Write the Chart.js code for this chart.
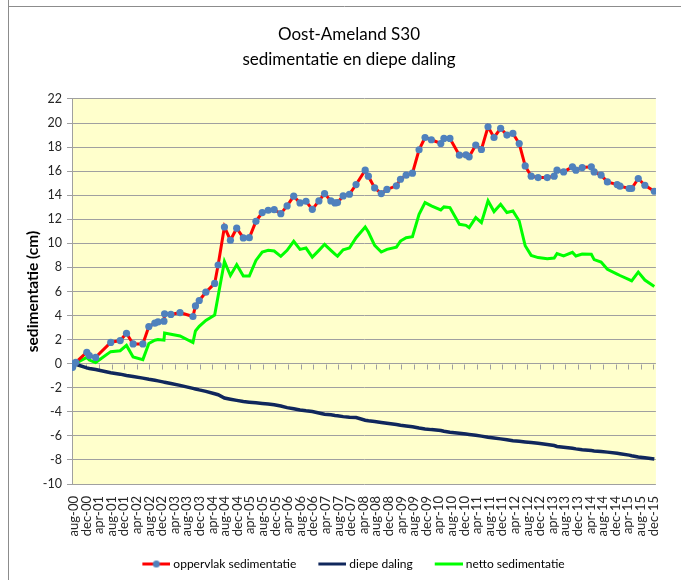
<!DOCTYPE html>
<html><head><meta charset="utf-8">
<script src="https://cdn.jsdelivr.net/npm/chart.js@4.4.1/dist/chart.umd.min.js"></script>
<style>html,body{margin:0;padding:0;background:#fff;overflow:hidden}canvas{display:block}</style>
</head><body>
<canvas id="c" width="681" height="580"></canvas>
<script>
const tickLabels = ['aug-00','dec-00','apr-01','aug-01','dec-01','apr-02','aug-02','dec-02','apr-03','aug-03','dec-03','apr-04','aug-04','dec-04','apr-05','aug-05','dec-05','apr-06','aug-06','dec-06','apr-07','aug-07','dec-07','apr-08','aug-08','dec-08','apr-09','aug-09','dec-09','apr-10','aug-10','dec-10','apr-11','aug-11','dec-11','apr-12','aug-12','dec-12','apr-13','aug-13','dec-13','apr-14','aug-14','dec-14','apr-15','aug-15','dec-15'];

// months since aug-00
const months = [-0.4, 0.0, 0.6, 4.1, 4.9, 6.9, 11.7, 14.7, 16.7, 18.8,
 21.9, 23.8, 25.7, 26.7, 28.6, 28.8, 30.8, 33.7, 37.8, 38.6,
 39.8, 41.9, 44.7, 45.8, 47.8, 49.7, 51.7, 53.8, 55.7, 57.8,
 59.8, 61.7, 63.6, 65.7, 67.7, 69.8, 71.8, 73.7, 75.7, 77.8,
 79.6, 81.6, 82.9, 83.7, 85.5, 87.5, 89.6, 92.5, 93.5, 95.5,
 97.6, 99.4, 102.4, 103.7, 105.5, 107.5, 109.6, 111.5, 113.5, 116.5,
 117.5, 119.4, 122.4, 124.5, 125.5, 127.6, 129.4, 131.5, 133.4, 135.5,
 137.5, 139.4, 141.4, 143.3, 145.2, 147.4, 150.3, 152.5, 153.4, 155.5,
 158.3, 159.4, 161.4, 164.3, 165.2, 167.4, 169.4, 172.5, 173.4, 176.3,
 177.1, 179.2, 181.3, 184.3];

const oppervlak = [-0.3, 0.0, 0.12, 0.95, 0.67, 0.52, 1.77, 1.92, 2.53, 1.64,
 1.64, 3.08, 3.37, 3.47, 3.53, 4.15, 4.09, 4.25, 3.92, 4.8,
 5.25, 5.94, 6.67, 8.2, 11.36, 10.26, 11.26, 10.45, 10.47, 11.83,
 12.56, 12.75, 12.8, 12.47, 13.11, 13.92, 13.36, 13.5, 12.83, 13.53,
 14.14, 13.53, 13.36, 13.39, 13.94, 14.08, 14.89, 16.08, 15.58, 14.61,
 14.14, 14.48, 14.78, 15.33, 15.67, 15.83, 17.78, 18.8, 18.61, 18.3,
 18.72, 18.72, 17.33, 17.36, 17.19, 18.17, 17.8, 19.69, 18.8, 19.56,
 19.0, 19.14, 18.3, 16.44, 15.58, 15.47, 15.47, 15.58, 16.08, 15.94,
 16.36, 16.08, 16.3, 16.36, 15.94, 15.67, 15.11, 14.89, 14.75, 14.56,
 14.56, 15.39, 14.83, 14.33];

const diepeDaling = [0.0, 0.0, -0.05, -0.35, -0.4, -0.48, -0.75, -0.87, -0.98, -1.07,
 -1.2, -1.3, -1.38, -1.43, -1.53, -1.55, -1.65, -1.8, -2.05, -2.1,
 -2.18, -2.3, -2.5, -2.58, -2.85, -2.95, -3.05, -3.15, -3.2, -3.25,
 -3.3, -3.35, -3.42, -3.52, -3.65, -3.75, -3.85, -3.92, -3.98, -4.1,
 -4.2, -4.25, -4.3, -4.32, -4.4, -4.45, -4.48, -4.7, -4.75, -4.8,
 -4.88, -4.95, -5.05, -5.12, -5.18, -5.25, -5.35, -5.42, -5.48, -5.55,
 -5.62, -5.7, -5.78, -5.85, -5.88, -5.95, -6.02, -6.12, -6.18, -6.25,
 -6.32, -6.4, -6.45, -6.5, -6.55, -6.62, -6.72, -6.8, -6.88, -6.95,
 -7.03, -7.08, -7.15, -7.22, -7.25, -7.3, -7.35, -7.45, -7.48, -7.6,
 -7.65, -7.75, -7.82, -7.92];

const netto = [-0.3, -0.1, 0.05, 0.52, 0.3, 0.1, 1.0, 1.08, 1.52, 0.55,
 0.34, 1.68, 1.95, 2.0, 1.95, 2.55, 2.45, 2.3, 1.75, 2.72,
 3.1, 3.6, 4.05, 5.62, 8.5, 7.33, 8.22, 7.28, 7.28, 8.58,
 9.28, 9.42, 9.36, 8.92, 9.42, 10.17, 9.5, 9.61, 8.86, 9.42,
 9.92, 9.42, 9.1, 8.94, 9.47, 9.61, 10.47, 11.36, 10.94, 9.83,
 9.28, 9.5, 9.69, 10.19, 10.47, 10.56, 12.42, 13.39, 13.11, 12.78,
 13.03, 12.97, 11.58, 11.5, 11.31, 12.14, 11.72, 13.53, 12.64, 13.25,
 12.56, 12.69, 11.86, 9.8, 9.0, 8.82, 8.72, 8.78, 9.15, 8.96,
 9.25, 8.95, 9.12, 9.1, 8.65, 8.45, 7.85, 7.45, 7.33, 6.98,
 6.88, 7.61, 6.95, 6.42];

const seriesNames = ['oppervlak sedimentatie', 'diepe daling', 'netto sedimentatie'];

const RED = '#FF0000', MARK = '#4F81BD', NAVY = '#10275C', GREEN = '#00FF00';

// legend icon: 40px wide image, visible line in the right 28px
function legendIcon(color, marker) {
  const c = document.createElement('canvas');
  c.width = 40; c.height = 9;
  const x = c.getContext('2d');
  x.strokeStyle = color; x.lineWidth = 3;
  x.beginPath(); x.moveTo(12, 4.5); x.lineTo(40, 4.5); x.stroke();
  if (marker) { x.fillStyle = marker; x.beginPath(); x.arc(26, 4.5, 3.5, 0, Math.PI * 2); x.fill(); }
  return c;
}
const icons = [legendIcon(RED, MARK), legendIcon(NAVY), legendIcon(GREEN)];

const pts = arr => months.map((m, i) => ({x: m, y: arr[i]}));

const deco = {
  id: 'deco',
  beforeDraw(chart) {
    const ctx = chart.ctx, a = chart.chartArea;
    ctx.save();
    ctx.fillStyle = '#fff'; ctx.fillRect(0, 0, chart.width, chart.height);
    ctx.fillStyle = '#FFFFCC'; ctx.fillRect(a.left, a.top, a.right - a.left, a.bottom - a.top);
    ctx.strokeStyle = '#8c8c8c'; ctx.lineWidth = 1;
    ctx.beginPath();
    ctx.moveTo(8.5, 0); ctx.lineTo(8.5, chart.height);
    ctx.moveTo(8, 6.5); ctx.lineTo(chart.width, 6.5);
    ctx.stroke();
    ctx.restore();
  },
  beforeDatasetsDraw(chart) {
    const ctx = chart.ctx, xs = chart.scales.x, ys = chart.scales.y;
    const y0 = Math.round(ys.getPixelForValue(0)) + 0.5;
    ctx.save();
    ctx.strokeStyle = '#a0a0a0'; ctx.lineWidth = 1;
    ctx.beginPath();
    tickLabels.forEach((_, i) => {
      const x = Math.round(xs.getPixelForValue(i * 4)) + 0.5;
      ctx.moveTo(x, y0); ctx.lineTo(x, y0 + 5);
    });
    ctx.stroke();
    ctx.restore();
  }
};

new Chart(document.getElementById('c'), {
  type: 'line',
  data: {
    datasets: [
      {label: seriesNames[0], data: pts(oppervlak), borderColor: RED, borderWidth: 3, pointRadius: 3.6, pointBackgroundColor: MARK, pointBorderColor: MARK, pointBorderWidth: 0, tension: 0},
      {label: seriesNames[1], data: pts(diepeDaling), borderColor: NAVY, borderWidth: 3.5, pointRadius: 0, tension: 0},
      {label: seriesNames[2], data: pts(netto), borderColor: GREEN, borderWidth: 3, pointRadius: 0, tension: 0}
    ]
  },
  options: {
    responsive: false,
    animation: false,
    events: [],
    layout: {padding: {left: 23, right: 6, top: 0, bottom: 0}},
    scales: {
      x: {
        type: 'linear', min: -0.6, max: 184.8,
        afterBuildTicks(s) { s.ticks = tickLabels.map((_, i) => ({value: i * 4})); },
        ticks: {autoSkip: false, maxRotation: 90, minRotation: 90, padding: 12, color: '#262626',
          font: {family: 'Lato', size: 13}, callback: (v, i) => tickLabels[i]},
        grid: {display: false, drawTicks: false},
        border: {display: false},
        afterFit(s) { s.height = 61; }
      },
      y: {
        min: -10, max: 22,
        ticks: {stepSize: 2, color: '#262626', font: {family: 'Lato', size: 12.5}, padding: 5},
        grid: {color: '#a0a0a0', lineWidth: 1, tickLength: 5},
        border: {display: true, color: '#a0a0a0'},
        title: {display: true, text: 'sedimentatie (cm)', color: '#000', font: {family: 'Lato', size: 15.5, weight: 'bold'}, padding: {top: 1, bottom: 0}},
        afterFit(s) { s.width = 49; }
      }
    },
    plugins: {
      title: {display: true, text: ['Oost-Ameland S30', 'sedimentatie en diepe daling'], color: '#000',
        font: {family: 'Lato', size: 17, weight: 'normal', lineHeight: 1.47}, padding: {top: 22, bottom: 27}},
      legend: {position: 'bottom',
        labels: {usePointStyle: true, pointStyleWidth: 34, padding: 13, color: '#000', font: {family: 'Lato', size: 12},
          generateLabels(chart) {
            return chart.data.datasets.map((ds, i) => ({text: ds.label, pointStyle: icons[i], fillStyle: 'transparent', strokeStyle: 'transparent', lineWidth: 0, hidden: false, datasetIndex: i, fontColor: '#000'}));
          }}},
      tooltip: {enabled: false}
    }
  },
  plugins: [deco]
});
</script>
</body></html>
